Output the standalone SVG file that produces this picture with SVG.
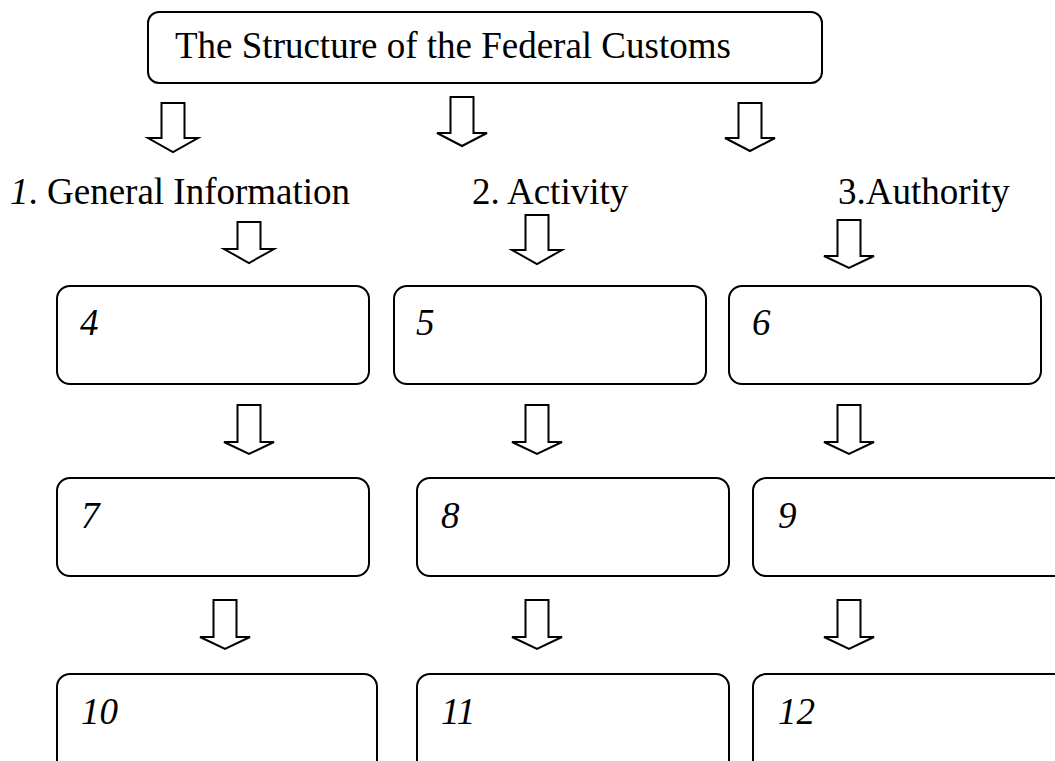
<svg xmlns="http://www.w3.org/2000/svg" width="1055" height="761" viewBox="0 0 1055 761">
  <style>
    .box { fill: #ffffff; stroke: #000000; stroke-width: 2; }
    .arrow { fill: #ffffff; stroke: #000000; stroke-width: 2; stroke-linejoin: miter; }
    .t { font-family: "Liberation Serif", "Times New Roman", serif; font-size: 37px; fill: #000000; }
    .num { font-family: "Liberation Serif", "Times New Roman", serif; font-size: 37px; font-style: italic; fill: #000000; }
  </style>
  <rect width="1055" height="761" fill="#ffffff"/>

  <!-- block arrows: shaft 23 wide, head 50 wide -->
  <g id="connectors">
    <path class="arrow" d="M161.5,103 H184.5 V138 H198 L173,152 L148,138 H161.5 Z"/>
    <path class="arrow" d="M450.5,97 H473.5 V133 H487 L462,146 L437,133 H450.5 Z"/>
    <path class="arrow" d="M738.5,103 H761.5 V138 H775 L750,151 L725,138 H738.5 Z"/>

    <path class="arrow" d="M237.5,222 H260.5 V249 H274 L249,263 L224,249 H237.5 Z"/>
    <path class="arrow" d="M525.5,215 H548.5 V250 H562 L537,264 L512,250 H525.5 Z"/>
    <path class="arrow" d="M837.5,220 H860.5 V256 H874 L849,268 L824,256 H837.5 Z"/>

    <path class="arrow" d="M237.5,405 H260.5 V442 H274 L249,454 L224,442 H237.5 Z"/>
    <path class="arrow" d="M525.5,405 H548.5 V442 H562 L537,454 L512,442 H525.5 Z"/>
    <path class="arrow" d="M837.5,405 H860.5 V442 H874 L849,454 L824,442 H837.5 Z"/>

    <path class="arrow" d="M213.5,600 H236.5 V637 H250 L225,649 L200,637 H213.5 Z"/>
    <path class="arrow" d="M525.5,600 H548.5 V637 H562 L537,649 L512,637 H525.5 Z"/>
    <path class="arrow" d="M837.5,600 H860.5 V637 H874 L849,649 L824,637 H837.5 Z"/>
  </g>

  <g id="title">
    <rect class="box" x="148" y="12" width="674" height="71" rx="11"/>
    <text class="t" x="175" y="58">The Structure of the Federal Customs</text>
  </g>

  <g id="section-1">
    <text class="t" x="10" y="204"><tspan font-style="italic">1</tspan>. General Information</text>
  </g>
  <g id="section-2">
    <text class="t" x="472" y="204">2. Activity</text>
  </g>
  <g id="section-3">
    <text class="t" x="838" y="204">3.Authority</text>
  </g>

  <g id="node-4">
    <rect class="box" x="57" y="286" width="312" height="98" rx="13"/>
    <text class="num" x="80" y="335">4</text>
  </g>
  <g id="node-5">
    <rect class="box" x="394" y="286" width="312" height="98" rx="13"/>
    <text class="num" x="416" y="335">5</text>
  </g>
  <g id="node-6">
    <rect class="box" x="729" y="286" width="312" height="98" rx="13"/>
    <text class="num" x="752" y="335">6</text>
  </g>

  <g id="node-7">
    <rect class="box" x="57" y="478" width="312" height="98" rx="13"/>
    <text class="num" x="81" y="528">7</text>
  </g>
  <g id="node-8">
    <rect class="box" x="417" y="478" width="312" height="98" rx="13"/>
    <text class="num" x="441" y="528">8</text>
  </g>
  <g id="node-9">
    <rect class="box" x="753" y="478" width="330" height="98" rx="13"/>
    <text class="num" x="778" y="528">9</text>
  </g>

  <g id="node-10">
    <rect class="box" x="57" y="674" width="320" height="110" rx="13"/>
    <text class="num" x="81" y="724">10</text>
  </g>
  <g id="node-11">
    <rect class="box" x="417" y="674" width="312" height="110" rx="13"/>
    <text class="num" x="441" y="724">11</text>
  </g>
  <g id="node-12">
    <rect class="box" x="753" y="674" width="330" height="110" rx="13"/>
    <text class="num" x="778" y="724">12</text>
  </g>
</svg>
